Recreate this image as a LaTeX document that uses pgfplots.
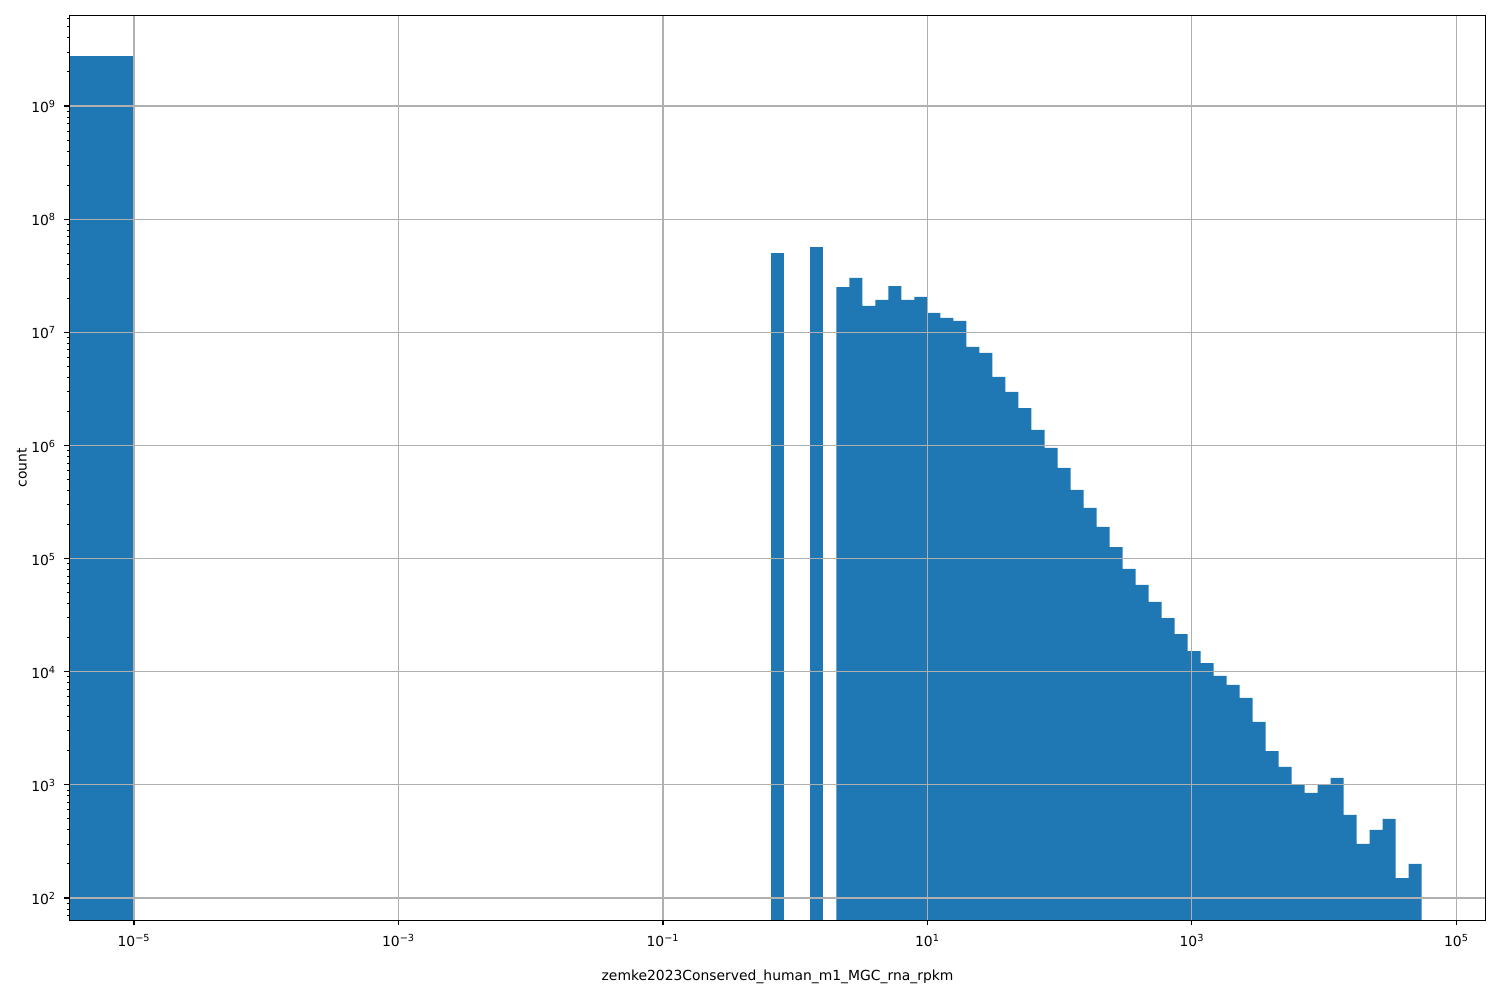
\documentclass[border=0pt]{standalone}
\usepackage{fontspec}
\setmainfont{DejaVu Sans}
\usepackage{pgfplots}
\pgfplotsset{compat=1.18}
\definecolor{mplblue}{HTML}{1F77B4}
\definecolor{mplgrid}{HTML}{B0B0B0}

\begin{document}
\begin{tikzpicture}
% page = 1500x1000 px at 100 dpi (1 px = 0.72pt)
\path[use as bounding box] (-49.9pt,-57.4pt) rectangle (1030.1pt,662.6pt);
\begin{axis}[
    at={(0,0)}, anchor=south west,
    scale only axis,
    width=1019.8pt, height=651.3pt,
    % x is plotted in log10 units, labelled as powers of ten
    xmin=-5.489, xmax=5.222,
    ymode=log, ymin=63.5, ymax=6.28e9,
    axis on top,
    grid=major,
    grid style={mplgrid, line width=0.8pt},
    axis line style={line width=0.8pt},
    tick align=outside,
    xtick pos=bottom, ytick pos=left,
    major tick length=3.5pt, minor tick length=2pt,
    major tick style={black, line width=0.8pt},
    minor tick style={black, line width=0.6pt},
    xtick={-5,-3,-1,1,3,5},
    xticklabels={10\textsuperscript{−5},10\textsuperscript{−3},10\textsuperscript{−1},
                 10\textsuperscript{1},10\textsuperscript{3},10\textsuperscript{5}},
    ytick={1e2,1e3,1e4,1e5,1e6,1e7,1e8,1e9},
    yticklabels={10\textsuperscript{2},10\textsuperscript{3},10\textsuperscript{4},
                 10\textsuperscript{5},10\textsuperscript{6},10\textsuperscript{7},
                 10\textsuperscript{8},10\textsuperscript{9}},
    minor ytick={70,80,90,
        2e2,3e2,4e2,5e2,6e2,7e2,8e2,9e2,
        2e3,3e3,4e3,5e3,6e3,7e3,8e3,9e3,
        2e4,3e4,4e4,5e4,6e4,7e4,8e4,9e4,
        2e5,3e5,4e5,5e5,6e5,7e5,8e5,9e5,
        2e6,3e6,4e6,5e6,6e6,7e6,8e6,9e6,
        2e7,3e7,4e7,5e7,6e7,7e7,8e7,9e7,
        2e8,3e8,4e8,5e8,6e8,7e8,8e8,9e8,
        2e9,3e9,4e9,5e9,6e9},
    xticklabel style={anchor=base, inner sep=0pt, yshift=-15.6pt},
    yticklabel style={anchor=base east, inner sep=0pt, xshift=-6pt, yshift=-4.8pt},
    xlabel={zemke2023Conserved\_human\_m1\_MGC\_rna\_rpkm},
    ylabel={count},
    xlabel style={at={([yshift=-43.7pt]axis description cs:0.5,0)}, anchor=base, inner sep=0pt},
    ylabel style={at={([xshift=-30.8pt]axis description cs:0,0.5)}, anchor=base, inner sep=0pt},
]

% zero bin (left edge off the axis)
\addplot[ybar interval, fill=mplblue, draw=none] coordinates {
    (-7,2.77e9) (-5,2.77e9)
};

\addplot[ybar interval, fill=mplblue, draw=none] coordinates {
    (-0.180328,5.02e7) (-0.081967,5.02e7)
};

\addplot[ybar interval, fill=mplblue, draw=none] coordinates {
    (0.114754,5.68e7) (0.213115,5.68e7)
};

\addplot[ybar interval, fill=mplblue, draw=none] coordinates {
    (0.311475,2.51e7)
    (0.409836,3.02e7)
    (0.508197,1.71e7)
    (0.606557,1.93e7)
    (0.704918,2.56e7)
    (0.803279,1.93e7)
    (0.901639,2.05e7)
    (1.000000,1.48e7)
    (1.098361,1.34e7)
    (1.196721,1.26e7)
    (1.295082,7.41e6)
    (1.393443,6.56e6)
    (1.491803,4.03e6)
    (1.590164,2.97e6)
    (1.688525,2.14e6)
    (1.786885,1.37e6)
    (1.885246,9.5e5)
    (1.983607,6.32e5)
    (2.081967,4.04e5)
    (2.180328,2.80e5)
    (2.278689,1.90e5)
    (2.377049,1.26e5)
    (2.475410,8.09e4)
    (2.573770,5.84e4)
    (2.672131,4.13e4)
    (2.770492,2.98e4)
    (2.868852,2.15e4)
    (2.967213,1.52e4)
    (3.065574,1.19e4)
    (3.163934,9160)
    (3.262295,7630)
    (3.360656,5860)
    (3.459016,3600)
    (3.557377,1990)
    (3.655738,1440)
    (3.754098,1000)
    (3.852459,850)
    (3.950820,1000)
    (4.049180,1150)
    (4.147541,542)
    (4.245902,300)
    (4.344262,400)
    (4.442623,500)
    (4.540984,150)
    (4.639344,200)
    (4.737705,200)
};

\end{axis}
\end{tikzpicture}
\end{document}
